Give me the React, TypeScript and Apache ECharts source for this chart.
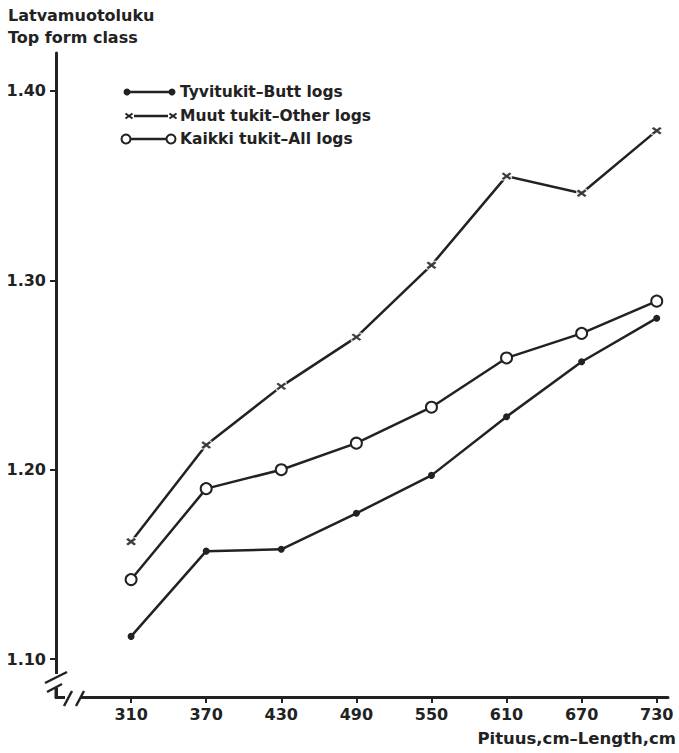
import React, { useEffect, useRef } from "react";
import * as echarts from "echarts";

const lengths = [310, 370, 430, 490, 550, 610, 670, 730];
const buttLogs = [1.112, 1.157, 1.158, 1.177, 1.197, 1.228, 1.257, 1.280];
const otherLogs = [1.162, 1.213, 1.244, 1.270, 1.308, 1.355, 1.346, 1.379];
const allLogs = [1.142, 1.190, 1.200, 1.214, 1.233, 1.259, 1.272, 1.289];
const yTicks = [1.1, 1.2, 1.3, 1.4];
const seriesNames = ["Tyvitukit–Butt logs", "Muut tukit–Other logs", "Kaikki tukit–All logs"];

const INK = "#222";
const FONT = "DejaVu Sans";
const X_PATH = "path://M0,0L10,8M10,0L0,8";

export default function App() {
  const ref = useRef<HTMLDivElement>(null);

  useEffect(() => {
    if (!ref.current) return;
    const chart = echarts.init(ref.current, null, { renderer: "svg" });
    const pts = (vals: number[]) => lengths.map((x, i) => [x, vals[i]]);

    const legendRows = [92, 116, 139];
    const legendGraphics: any[] = [];
    legendRows.forEach((y, i) => {
      legendGraphics.push({
        type: "line",
        shape: { x1: 127, y1: y, x2: 172, y2: y },
        style: { stroke: INK, lineWidth: 2.5 },
        z: 10,
      });
      if (i === 0) {
        [127, 172].forEach((cx) =>
          legendGraphics.push({ type: "circle", shape: { cx, cy: y, r: 3.5 }, style: { fill: INK }, z: 11 })
        );
      } else if (i === 1) {
        [129, 173].forEach((cx) => {
          legendGraphics.push({ type: "rect", shape: { x: cx - 5, y: y - 4, width: 10, height: 8 }, style: { fill: "#fff" }, z: 11 });
          legendGraphics.push({ type: "line", shape: { x1: cx - 3.5, y1: y - 2.5, x2: cx + 3.5, y2: y + 2.5 }, style: { stroke: INK, lineWidth: 2 }, z: 12 });
          legendGraphics.push({ type: "line", shape: { x1: cx - 3.5, y1: y + 2.5, x2: cx + 3.5, y2: y - 2.5 }, style: { stroke: INK, lineWidth: 2 }, z: 12 });
        });
      } else {
        [126, 171].forEach((cx) =>
          legendGraphics.push({ type: "circle", shape: { cx, cy: y, r: 4.5 }, style: { fill: "#fff", stroke: INK, lineWidth: 2 }, z: 11 })
        );
      }
      legendGraphics.push({
        type: "text",
        x: 180,
        y,
        style: { text: seriesNames[i], fill: INK, font: `bold 15.5px '${FONT}'`, textVerticalAlign: "middle" },
        z: 10,
      });
    });

    chart.setOption({
      animation: false,
      backgroundColor: "#fff",
      grid: { left: 56, right: 11, top: 53, bottom: 56 },
      xAxis: {
        type: "value",
        min: 250,
        max: 739,
        splitLine: { show: false },
        axisLine: { show: true, onZero: false, lineStyle: { color: INK, width: 3 } },
        axisTick: { show: true, length: 6, customValues: lengths, lineStyle: { color: INK, width: 2 } },
        axisLabel: {
          customValues: lengths,
          margin: 9,
          color: INK,
          fontFamily: FONT,
          fontWeight: "bold",
          fontSize: 16,
        },
      },
      yAxis: {
        type: "value",
        min: 1.08,
        max: 1.42,
        splitLine: { show: false },
        axisLine: { show: true, onZero: false, lineStyle: { color: INK, width: 3 } },
        axisTick: { show: true, length: 6, customValues: yTicks, lineStyle: { color: INK, width: 2 } },
        axisLabel: {
          customValues: yTicks,
          margin: 10,
          color: INK,
          fontFamily: FONT,
          fontWeight: "bold",
          fontSize: 16,
          formatter: (v: number) => v.toFixed(2),
        },
      },
      series: [
        {
          name: seriesNames[0],
          type: "line",
          data: pts(buttLogs),
          symbol: "circle",
          symbolSize: 7,
          lineStyle: { color: INK, width: 2.5 },
          itemStyle: { color: INK },
          z: 2,
        },
        {
          name: seriesNames[1],
          type: "line",
          data: pts(otherLogs),
          symbol: "none",
          lineStyle: { color: INK, width: 2.5 },
          z: 2,
        },
        {
          name: seriesNames[1] + " gap",
          type: "scatter",
          data: pts(otherLogs),
          symbol: "rect",
          symbolSize: [11, 9],
          itemStyle: { color: "#fff" },
          z: 3,
        },
        {
          name: seriesNames[1] + " mark",
          type: "scatter",
          data: pts(otherLogs),
          symbol: X_PATH,
          symbolSize: [8, 6],
          itemStyle: { color: "none", borderColor: "#111", borderWidth: 2.4 },
          z: 4,
        },
        {
          name: seriesNames[2],
          type: "line",
          data: pts(allLogs),
          symbol: "circle",
          symbolSize: 11,
          lineStyle: { color: INK, width: 2.5 },
          itemStyle: { color: "#fff", borderColor: INK, borderWidth: 2 },
          z: 5,
        },
      ],
      graphic: [
        {
          type: "text",
          x: 8,
          y: 7,
          style: { text: "Latvamuotoluku", fill: INK, font: `bold 16px '${FONT}'` },
        },
        {
          type: "text",
          x: 8,
          y: 29,
          style: { text: "Top form class", fill: INK, font: `bold 16px '${FONT}'` },
        },
        {
          type: "text",
          x: 676,
          y: 738,
          style: {
            text: "Pituus,cm–Length,cm",
            fill: INK,
            font: `bold 16.5px '${FONT}'`,
            textAlign: "right",
            textVerticalAlign: "middle",
          },
        },
        // y-axis break
        { type: "rect", shape: { x: 50, y: 674, width: 12, height: 14 }, style: { fill: "#fff" }, z: 20 },
        { type: "line", shape: { x1: 45, y1: 683, x2: 67, y2: 672 }, style: { stroke: INK, lineWidth: 2.5 }, z: 21 },
        { type: "line", shape: { x1: 47, y1: 692, x2: 62, y2: 684 }, style: { stroke: INK, lineWidth: 2.5 }, z: 21 },
        { type: "line", shape: { x1: 56, y1: 687, x2: 56, y2: 697 }, style: { stroke: INK, lineWidth: 3 }, z: 21 },
        // x-axis break
        { type: "rect", shape: { x: 65, y: 692, width: 15, height: 10 }, style: { fill: "#fff" }, z: 20 },
        { type: "line", shape: { x1: 64, y1: 706, x2: 72, y2: 691 }, style: { stroke: INK, lineWidth: 2.5 }, z: 21 },
        { type: "line", shape: { x1: 76, y1: 706, x2: 84, y2: 691 }, style: { stroke: INK, lineWidth: 2.5 }, z: 21 },
        ...legendGraphics,
      ],
    });

    return () => chart.dispose();
  }, []);

  return (
    <div
      ref={ref}
      style={{ position: "absolute", left: 0, top: 0, width: 679, height: 753, background: "#fff" }}
    />
  );
}
